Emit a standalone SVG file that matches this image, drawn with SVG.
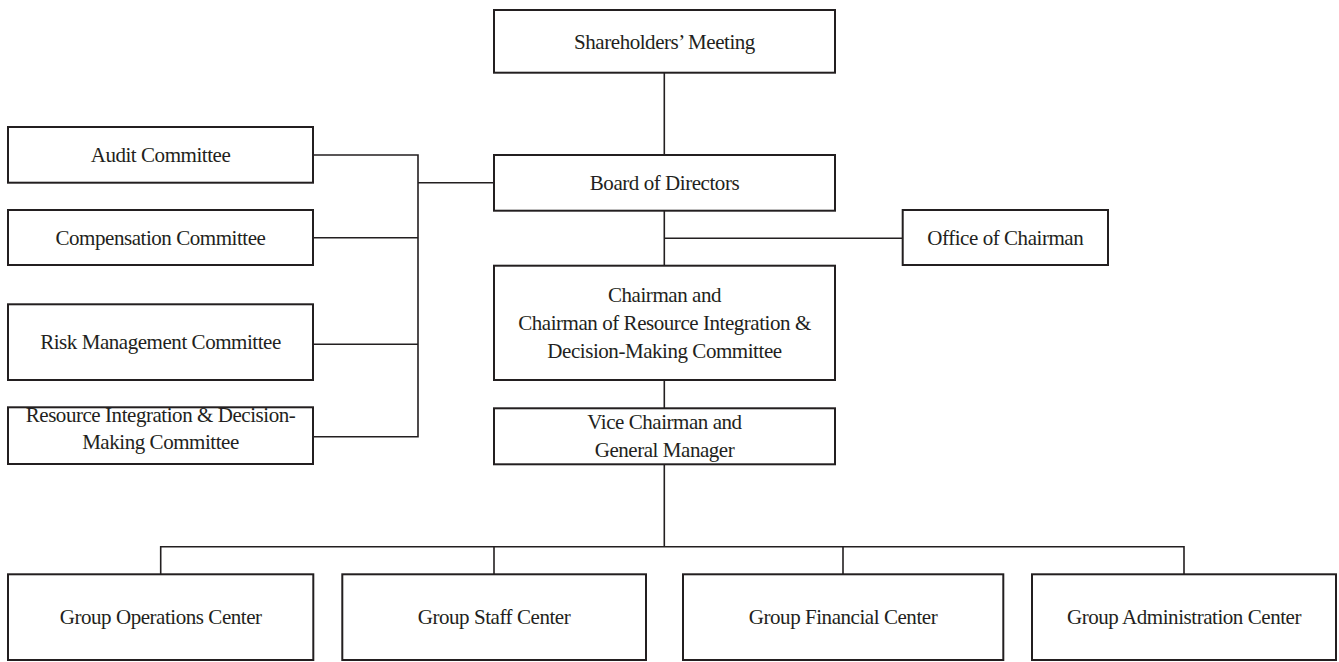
<svg xmlns="http://www.w3.org/2000/svg" width="1339" height="662" viewBox="0 0 1339 662">
  <style>
    .box { fill: #ffffff; stroke: #231f20; stroke-width: 2; }
    .lbl { font-family: "Liberation Serif", "Times New Roman", serif; font-size: 21px; letter-spacing: -0.45px; fill: #231f20; text-anchor: middle; }
    .wire { fill: none; stroke: #231f20; stroke-width: 1.6; }
  </style>
  <rect width="1339" height="662" fill="#ffffff"/>

  <!-- connectors -->
  <g id="connectors" class="wire">
    <path d="M664.3 72.7 V155"/>
    <path d="M313 155 H418 V436.7 H313"/>
    <path d="M313 237.7 H418"/>
    <path d="M313 344.3 H418"/>
    <path d="M418 182.7 H494"/>
    <path d="M664.3 210.7 V265.7"/>
    <path d="M664.3 238.3 H902.7"/>
    <path d="M664.3 380 V408.3"/>
    <path d="M664.3 464.3 V546.7"/>
    <path d="M160.7 574.3 V546.7 H1184 V574.3"/>
    <path d="M494 546.7 V574.3"/>
    <path d="M843 546.7 V574.3"/>
  </g>

  <!-- governance chain -->
  <g id="shareholders">
    <rect class="box" x="494" y="10" width="341" height="62.7"/>
    <text class="lbl" x="664.5" y="48.5">Shareholders’ Meeting</text>
  </g>
  <g id="board">
    <rect class="box" x="494" y="155" width="341" height="55.7"/>
    <text class="lbl" x="664.5" y="190">Board of Directors</text>
  </g>
  <g id="office-chairman">
    <rect class="box" x="902.7" y="210" width="205.3" height="55"/>
    <text class="lbl" x="1005.3" y="245">Office of Chairman</text>
  </g>
  <g id="chairman">
    <rect class="box" x="494" y="265.7" width="341" height="114.3"/>
    <text class="lbl" x="664.5" y="302">Chairman and</text>
    <text class="lbl" x="664.5" y="330">Chairman of Resource Integration &amp;</text>
    <text class="lbl" x="664.5" y="358">Decision-Making Committee</text>
  </g>
  <g id="vice-chairman">
    <rect class="box" x="494" y="408.3" width="341" height="56"/>
    <text class="lbl" x="664.5" y="429.3">Vice Chairman and</text>
    <text class="lbl" x="664.5" y="457.3">General Manager</text>
  </g>

  <!-- board committees -->
  <g id="audit">
    <rect class="box" x="8" y="127" width="305" height="55.7"/>
    <text class="lbl" x="160.5" y="162.3">Audit Committee</text>
  </g>
  <g id="compensation">
    <rect class="box" x="8" y="210" width="305" height="55"/>
    <text class="lbl" x="160.5" y="245">Compensation Committee</text>
  </g>
  <g id="risk">
    <rect class="box" x="8" y="304.3" width="305" height="75.7"/>
    <text class="lbl" x="160.5" y="349.3">Risk Management Committee</text>
  </g>
  <g id="resource">
    <rect class="box" x="8" y="407.3" width="305" height="56.7"/>
    <text class="lbl" x="160.5" y="421.7">Resource Integration &amp; Decision-</text>
    <text class="lbl" x="160.5" y="449.3">Making Committee</text>
  </g>

  <!-- group centers -->
  <g id="operations">
    <rect class="box" x="8" y="574.3" width="305.3" height="85.7"/>
    <text class="lbl" x="160.7" y="624.3">Group Operations Center</text>
  </g>
  <g id="staff">
    <rect class="box" x="342.3" y="574.3" width="303.7" height="85.7"/>
    <text class="lbl" x="494" y="624.3">Group Staff Center</text>
  </g>
  <g id="financial">
    <rect class="box" x="683" y="574.3" width="320.3" height="85.7"/>
    <text class="lbl" x="843" y="624.3">Group Financial Center</text>
  </g>
  <g id="administration">
    <rect class="box" x="1032" y="574.3" width="304" height="85.7"/>
    <text class="lbl" x="1184" y="624.3">Group Administration Center</text>
  </g>
</svg>
